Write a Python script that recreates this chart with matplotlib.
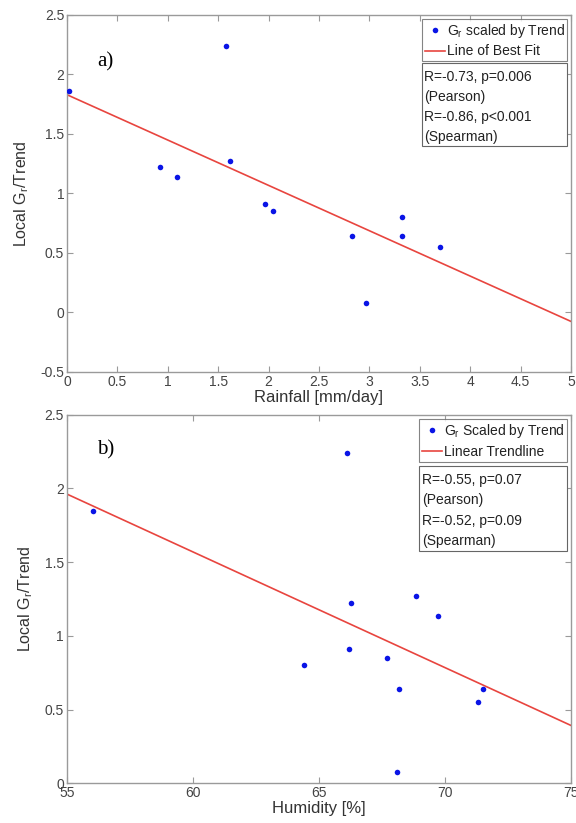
import numpy as np
from matplotlib import pyplot as plt
from matplotlib.patches import Rectangle

plt.rcParams['font.family'] = ['Liberation Sans', 'DejaVu Sans']
plt.rcParams['mathtext.default'] = 'regular'

# rainfall panel
rain = [0.02, 0.92, 1.09, 1.58, 1.62, 1.96, 2.04, 2.83, 2.97, 3.32, 3.32, 3.70]
gr_rain = [1.86, 1.22, 1.14, 2.24, 1.27, 0.91, 0.85, 0.64, 0.08, 0.80, 0.64, 0.55]
rain_fit = [-0.381, 1.83]  # slope, intercept
rain_stats = "R=-0.73, p=0.006\n(Pearson)\nR=-0.86, p<0.001\n(Spearman)"

# humidity panel
hum = [56.06, 64.42, 66.11, 66.19, 66.27, 67.72, 68.10, 68.16, 68.86, 69.72, 71.31, 71.51]
gr_hum = [1.85, 0.80, 2.24, 0.91, 1.22, 0.85, 0.08, 0.64, 1.27, 1.135, 0.55, 0.64]
hum_fit = [-0.0785, 6.28]
hum_stats = "R=-0.55, p=0.07\n(Pearson)\nR=-0.52, p=0.09\n(Spearman)"

AXIS_COLOR = '#9a9a9a'
TICK_TEXT = '#444444'
BOX_EDGE = '#666666'


def panel(ax, x, y, fit, xlim, ylim, xticks, yticks, xlabel, tag, tag_y,
          dot_label, line_label, stats, leg_box, stats_box):
    xs = np.array(xlim, dtype=float)
    ax.plot(xs, fit[0] * xs + fit[1], color='#e8453f', lw=1.2, label=line_label,
            zorder=2)
    ax.plot(x, y, 'o', color='#0a14e6', ms=4, mec='none', label=dot_label,
            zorder=3)
    ax.set_xlim(xlim)
    ax.set_ylim(ylim)
    ax.set_xticks(xticks)
    ax.set_yticks(yticks)
    ax.set_xticklabels([('%g' % t) for t in xticks])
    ax.set_yticklabels([('%g' % t) for t in yticks])
    ax.tick_params(direction='in', length=4, width=0.8, color=AXIS_COLOR,
                   labelcolor=TICK_TEXT, labelsize=10, top=True, right=True,
                   pad=2)
    for s in ax.spines.values():
        s.set_color(AXIS_COLOR)
        s.set_linewidth(1.0)
    ax.set_xlabel(xlabel, fontsize=12, color='#333333', labelpad=1)
    ax.set_ylabel('Local G$_r$/Trend', fontsize=11.5, color='#333333',
                  labelpad=7)
    ax.text(0.06, tag_y, tag, transform=ax.transAxes, fontsize=15,
            family='Liberation Serif', va='center')

    # legend: dot first, line second, stretched over the box width
    h, l = ax.get_legend_handles_labels()
    leg = ax.legend(h[::-1], l[::-1], loc='upper left', mode='expand',
                    bbox_to_anchor=leg_box, fontsize=10,
                    frameon=True, fancybox=False, handlelength=1.45,
                    handletextpad=0.15, borderpad=0.22, labelspacing=0.32,
                    borderaxespad=0.0, numpoints=1)
    leg.get_frame().set_edgecolor(BOX_EDGE)
    leg.get_frame().set_linewidth(0.8)
    for t in leg.get_texts():
        t.set_color('#222222')

    # correlation box under the legend
    x0, y0, x1, y1 = stats_box
    ax.add_patch(Rectangle((x0, y0), x1 - x0, y1 - y0, transform=ax.transAxes,
                           fc='white', ec=BOX_EDGE, lw=0.8, zorder=4))
    ax.text(x0 + 0.005, y1 - 0.02, stats, transform=ax.transAxes, fontsize=10,
            color='#222222', va='top', ha='left', linespacing=1.56, zorder=5)


fig = plt.figure(figsize=(5.76, 8.23), dpi=100)
ax1 = fig.add_axes([0.1163, 0.548, 0.875, 0.4338])
ax2 = fig.add_axes([0.1158, 0.0482, 0.8755, 0.4479])

panel(ax1, rain, gr_rain, rain_fit, (0, 5), (-0.5, 2.5),
      [0, 0.5, 1, 1.5, 2, 2.5, 3, 3.5, 4, 4.5, 5],
      [-0.5, 0, 0.5, 1, 1.5, 2, 2.5],
      'Rainfall [mm/day]', 'a)', 0.87,
      'G$_r$ scaled by Trend', 'Line of Best Fit', rain_stats,
      (0.704, 0.871, 0.288, 0.118), (0.704, 0.633, 0.992, 0.866))

panel(ax2, hum, gr_hum, hum_fit, (55, 75), (0, 2.5),
      [55, 60, 65, 70, 75],
      [0, 0.5, 1, 1.5, 2, 2.5],
      'Humidity [%]', 'b)', 0.904,
      'G$_r$ Scaled by Trend', 'Linear Trendline', hum_stats,
      (0.699, 0.869, 0.293, 0.119), (0.699, 0.630, 0.992, 0.861))

fig.savefig('out.png', dpi=100)
